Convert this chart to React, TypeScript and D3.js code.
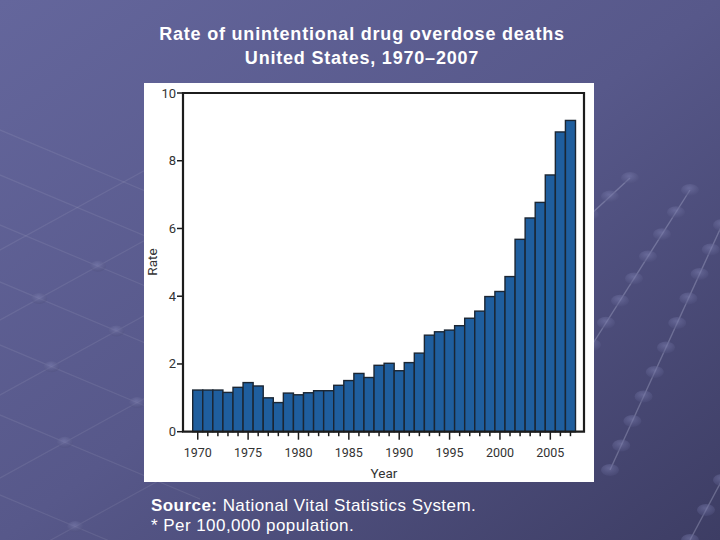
import React from "react";
import * as d3 from "d3";

const years: number[] = d3.range(1970, 2008);
const rates: number[] = [
  1.23, 1.23, 1.23, 1.16, 1.31, 1.45, 1.35, 1.0, 0.86, 1.14,
  1.09, 1.15, 1.21, 1.21, 1.37, 1.51, 1.72, 1.6, 1.96, 2.02,
  1.8, 2.04, 2.32, 2.85, 2.95, 3.0, 3.13, 3.35, 3.56, 3.99,
  4.14, 4.58, 5.68, 6.31, 6.77, 7.58, 8.85, 9.19,
];
const yTicks: number[] = [0, 2, 4, 6, 8, 10];
const xLabelYears: number[] = [1970, 1975, 1980, 1985, 1990, 1995, 2000, 2005];
const titleLines: string[] = ["Rate of unintentional drug overdose deaths", "United States, 1970\u20132007"];

// decorative background lattice (left) and chains (right)
const latticeA: number[] = [130, 175, 225, 282, 345, 415, 495, 585];
const latticeB: number[] = [250, 320, 395, 478, 568, 665];
const chains: [number, number, number, number][] = [
  [590, 215, 630, 178],
  [592, 345, 690, 190],
  [610, 470, 722, 225],
  [690, 540, 722, 480],
];

export default function App() {
  const W = 720, H = 540;
  const left = 183, right = 584, top = 93, bottom = 431.7;
  const barLeft = 192.7, barRight = 575.5;
  const x = d3.scaleBand<number>().domain(years).range([barLeft, barRight]).padding(0);
  const y = d3.scaleLinear().domain([0, 10]).range([bottom, top]);
  const axisFont = "Roboto, 'Open Sans', sans-serif";
  const slopeA = 0.42, slopeB = -0.55;

  const dots: [number, number][] = [];
  latticeA.forEach((a) => latticeB.forEach((b) => {
    const xi = (b - a) / (slopeA - slopeB);
    const yi = a + slopeA * xi;
    if (xi > -5 && xi < 150 && yi > 250 && yi < 545) dots.push([xi, yi]);
  }));
  const chainDots: [number, number][] = [];
  chains.forEach(([x1, y1, x2, y2]) => {
    const n = Math.max(2, Math.round(Math.hypot(x2 - x1, y2 - y1) / 28));
    for (let k = 0; k <= n; k++) chainDots.push([x1 + ((x2 - x1) * k) / n, y1 + ((y2 - y1) * k) / n]);
  });

  return (
    <svg width={W} height={H} style={{ position: "absolute", left: 0, top: 0 }}>
      <defs>
        <linearGradient id="bg" x1="0" y1="0" x2="1" y2="1">
          <stop offset="0" stopColor="#64669c" />
          <stop offset="0.5" stopColor="#57588a" />
          <stop offset="1" stopColor="#3d3d64" />
        </linearGradient>
        <radialGradient id="ball" cx="0.45" cy="0.35" r="0.7">
          <stop offset="0" stopColor="#7f81b2" stopOpacity="0.75" />
          <stop offset="1" stopColor="#4c4d7a" stopOpacity="0.6" />
        </radialGradient>
      </defs>
      <rect x={0} y={0} width={W} height={H} fill="url(#bg)" />
      <g>
        {latticeA.map((a) => (
          <line key={"a" + a} x1={-10} y1={a - 10 * slopeA} x2={200} y2={a + 200 * slopeA} stroke="#fff" strokeOpacity={0.08} strokeWidth={1.2} />
        ))}
        {latticeB.map((b) => (
          <line key={"b" + b} x1={-10} y1={b - 10 * slopeB} x2={200} y2={b + 200 * slopeB} stroke="#fff" strokeOpacity={0.08} strokeWidth={1.2} />
        ))}
        {dots.map(([cx, cy], i) => (
          <ellipse key={i} cx={cx} cy={cy} rx={8} ry={5.5} fill="url(#ball)" opacity={0.7} />
        ))}
        {chains.map(([x1, y1, x2, y2], i) => (
          <line key={"c" + i} x1={x1} y1={y1} x2={x2} y2={y2} stroke="#c8c9e6" strokeOpacity={0.3} strokeWidth={1.4} />
        ))}
        {chainDots.map(([cx, cy], i) => (
          <ellipse key={"cd" + i} cx={cx} cy={cy} rx={9} ry={6} fill="url(#ball)" opacity={0.7} />
        ))}
      </g>
      {/* title */}
      {titleLines.map((t, i) => (
        <text key={i} x={362} y={40 + i * 24} textAnchor="middle" fill="#fff" letterSpacing={0.8}
          fontFamily="'Liberation Sans', Arial, sans-serif" fontWeight="bold" fontSize={18}>
          {t}
        </text>
      ))}
      {/* white panel */}
      <rect x={144} y={83} width={450} height={399} fill="#fff" />
      {/* bars */}
      {years.map((yr, i) => (
        <rect key={yr} x={x(yr)!} y={y(rates[i])} width={x.bandwidth()} height={bottom - y(rates[i])}
          fill="#1f5e9e" stroke="#1b2633" strokeWidth={1.4} />
      ))}
      {/* frame */}
      <path d={`M${left},${bottom} L${left},${top} L${right},${top} L${right},${bottom} Z`} fill="none" stroke="#1c1c1c" strokeWidth={2.2} />
      {/* y ticks */}
      {yTicks.map((t) => (
        <g key={t}>
          <line x1={left - 6} x2={left} y1={y(t)} y2={y(t)} stroke="#1c1c1c" strokeWidth={1.5} />
          <text x={left - 7} y={y(t) + 4.5} textAnchor="end" fontSize={13} fill="#333" fontFamily={axisFont}>{t}</text>
        </g>
      ))}
      {/* x ticks */}
      {years.map((yr) => {
        const cx = x(yr)! + x.bandwidth() / 2;
        const major = yr % 5 === 0;
        return <line key={yr} x1={cx} x2={cx} y1={bottom} y2={bottom + (major ? 8 : 4.5)} stroke="#1c1c1c" strokeWidth={1.5} />;
      })}
      {xLabelYears.map((yr) => (
        <text key={yr} x={x(yr)! + x.bandwidth() / 2} y={457} textAnchor="middle" fontSize={12.5} fill="#333" fontFamily={axisFont}>{yr}</text>
      ))}
      <text x={384} y={478} textAnchor="middle" fontSize={13.5} fill="#333" fontFamily={axisFont}>Year</text>
      <text transform={`translate(157,262) rotate(-90)`} textAnchor="middle" fontSize={13.5} fill="#333" fontFamily={axisFont}>Rate</text>
      {/* source */}
      <text x={151} y={511} fill="#fff" letterSpacing={0.45} fontFamily="'Liberation Sans', Arial, sans-serif" fontSize={17}>
        <tspan fontWeight="bold">Source:</tspan> National Vital Statistics System.
      </text>
      <text x={151} y={531} fill="#fff" letterSpacing={0.45} fontFamily="'Liberation Sans', Arial, sans-serif" fontSize={17}>
        * Per 100,000 population.
      </text>
    </svg>
  );
}
